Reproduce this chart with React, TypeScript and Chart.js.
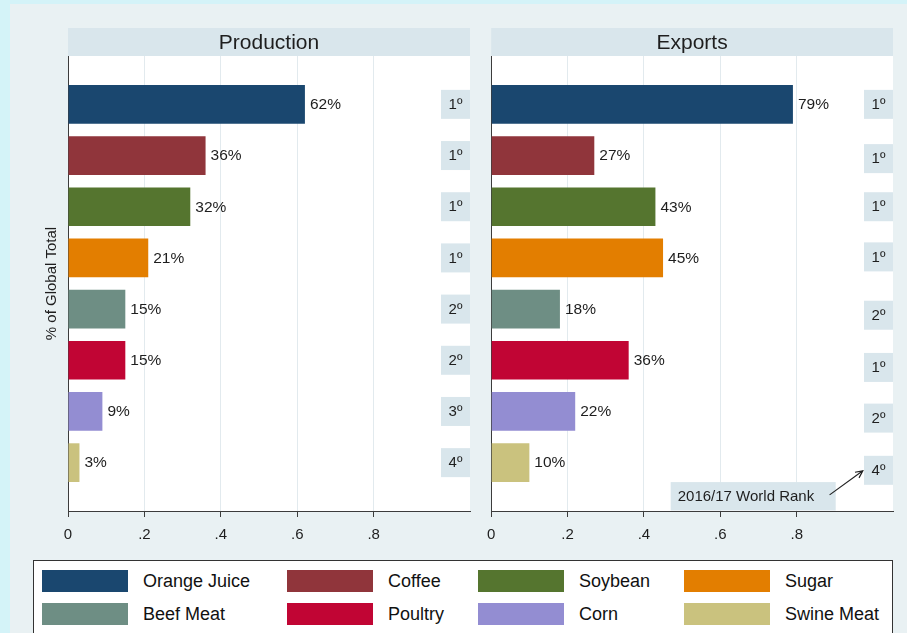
import React, { useEffect, useRef } from "react";
import { Chart, registerables } from "chart.js";

Chart.register(...registerables);

// ---------- data ----------
const categories = ["Orange Juice", "Coffee", "Soybean", "Sugar", "Beef Meat", "Poultry", "Corn", "Swine Meat"];
const productionShare = [0.62, 0.36, 0.32, 0.21, 0.15, 0.15, 0.09, 0.03];
const exportsShare = [0.79, 0.27, 0.43, 0.45, 0.18, 0.36, 0.22, 0.1];
const productionRank = ["1º", "1º", "1º", "1º", "2º", "2º", "3º", "4º"];
const exportsRank = ["1º", "1º", "1º", "1º", "2º", "1º", "2º", "4º"];
const productionRankY = [0, 1, 2, 3, 4, 5, 6, 7];
const exportsRankY = [0, 1.06, 2, 2.98, 4.12, 5.14, 6.13, 7.15];
const xTickValues = [0, 0.2, 0.4, 0.6, 0.8];
const xTickLabels = ["0", ".2", ".4", ".6", ".8"];
const barColors = ["#1a476f", "#90353b", "#55752f", "#e37e00", "#6e8e84", "#c10534", "#938dd2", "#cac27e"];
const panelTitles = ["Production", "Exports"];
const yAxisTitle = "% of Global Total";
const annotationText = "2016/17 World Rank";

// ---------- style ----------
const FONT = '"Liberation Sans", Arial, Helvetica, sans-serif';
const OUTER_BG = "#d4f3f8";
const PANEL_BG = "#e9f1f3";
const HEADER_BG = "#d9e6ec";
const GRID = "#e2eaee";
const AXIS = "#3c3c3c";
const TEXT = "#1e1e1e";
const X_MAX = 1.052;
const RANK_X = 1.014;

const decorPlugin = {
  id: "decor",
  beforeDraw(chart: any, _args: any, opts: any) {
    const { ctx, chartArea: a } = chart;
    ctx.save();
    ctx.fillStyle = "#ffffff";
    ctx.fillRect(a.left, a.top, a.right - a.left, a.bottom - a.top);
    ctx.fillStyle = HEADER_BG;
    ctx.fillRect(a.left, a.top - 28, a.right - a.left, 28);
    ctx.fillStyle = TEXT;
    ctx.font = `21px ${FONT}`;
    ctx.textAlign = "center";
    ctx.textBaseline = "middle";
    ctx.fillText(opts.title, (a.left + a.right) / 2, a.top - 13);
    ctx.restore();
  },
  afterDatasetsDraw(chart: any, _args: any, opts: any) {
    const { ctx, chartArea: a } = chart;
    const xs = chart.scales.x;
    const ys = chart.scales.y;
    const values: number[] = opts.values;
    ctx.save();
    // value labels
    ctx.fillStyle = TEXT;
    ctx.font = `15.5px ${FONT}`;
    ctx.textAlign = "left";
    ctx.textBaseline = "middle";
    values.forEach((v, i) => {
      ctx.fillText(Math.round(v * 100) + "%", xs.getPixelForValue(v) + 5, ys.getPixelForValue(i) + 0.5);
    });
    // rank boxes
    const ranks: string[] = opts.ranks;
    const rankY: number[] = opts.rankY;
    ranks.forEach((r, i) => {
      const cx = xs.getPixelForValue(RANK_X);
      const cy = ys.getPixelForValue(rankY[i]);
      ctx.fillStyle = HEADER_BG;
      ctx.fillRect(cx - 14.5, cy - 14.5, 29, 29);
      ctx.fillStyle = TEXT;
      ctx.font = `15px ${FONT}`;
      ctx.textAlign = "center";
      ctx.fillText(r, cx, cy + 0.5);
    });
    // annotation
    if (opts.annotate) {
      const x0 = xs.getPixelForValue(0.47);
      const x1 = xs.getPixelForValue(0.902);
      const y0 = ys.getPixelForValue(7.38);
      const y1 = a.bottom - 0.5;
      ctx.fillStyle = HEADER_BG;
      ctx.fillRect(x0, y0, x1 - x0, y1 - y0);
      ctx.fillStyle = TEXT;
      ctx.font = `15px ${FONT}`;
      ctx.textAlign = "left";
      ctx.fillText(annotationText, x0 + 7, (y0 + y1) / 2 + 0.5);
      const ax0 = xs.getPixelForValue(0.886);
      const ay0 = ys.getPixelForValue(7.63);
      const ax1 = xs.getPixelForValue(0.973);
      const ay1 = ys.getPixelForValue(7.16);
      ctx.strokeStyle = "#222";
      ctx.lineWidth = 1.2;
      ctx.beginPath();
      ctx.moveTo(ax0, ay0);
      ctx.lineTo(ax1, ay1);
      const ang = Math.atan2(ay1 - ay0, ax1 - ax0);
      const h = 8;
      ctx.moveTo(ax1 - h * Math.cos(ang - 0.45), ay1 - h * Math.sin(ang - 0.45));
      ctx.lineTo(ax1, ay1);
      ctx.lineTo(ax1 - h * Math.cos(ang + 0.45), ay1 - h * Math.sin(ang + 0.45));
      ctx.stroke();
    }
    ctx.restore();
  },
};

type PanelProps = {
  title: string;
  values: number[];
  ranks: string[];
  rankY: number[];
  left: number;
  width: number;
  yWidth: number;
  padRight: number;
  showYTitle: boolean;
  annotate: boolean;
};

function Panel(p: PanelProps) {
  const ref = useRef<HTMLCanvasElement | null>(null);
  useEffect(() => {
    if (!ref.current) return;
    const chart = new Chart(ref.current, {
      type: "bar",
      data: {
        labels: categories,
        datasets: [
          {
            data: p.values.map((v, i) => ({ x: v, y: i })) as any,
            backgroundColor: barColors,
            borderWidth: 0,
            categoryPercentage: 0.8,
            barPercentage: 1,
          },
        ],
      },
      options: {
        animation: false,
        responsive: false,
        maintainAspectRatio: false,
        indexAxis: "y",
        layout: { padding: { top: 56, right: p.padRight, left: 0, bottom: 0 } },
        plugins: {
          legend: { display: false },
          tooltip: { enabled: false },
          decor: { title: p.title, values: p.values, ranks: p.ranks, rankY: p.rankY, annotate: p.annotate },
        } as any,
        scales: {
          x: {
            type: "linear",
            position: "bottom",
            min: 0,
            max: X_MAX,
            afterBuildTicks: (s: any) => {
              s.ticks = xTickValues.map((v) => ({ value: v }));
            },
            afterFit: (s: any) => {
              s.height = 45;
            },
            ticks: {
              callback: (_v: any, i: number) => xTickLabels[i],
              font: { family: FONT, size: 15 },
              color: TEXT,
              padding: 9,
              maxRotation: 0,
              autoSkip: false,
            },
            grid: { color: GRID, tickColor: AXIS, tickLength: 6, drawTicks: true, lineWidth: 1 },
            border: { display: true, color: AXIS, width: 1 },
          },
          y: {
            type: "linear",
            offset: false,
            min: -0.945,
            max: 7.945,
            reverse: true,
            afterFit: (s: any) => {
              s.width = p.yWidth;
            },
            ticks: { display: false },
            grid: { display: false, offset: false },
            border: { display: true, color: AXIS, width: 1 },
            title: {
              display: p.showYTitle,
              text: yAxisTitle,
              color: TEXT,
              font: { family: FONT, size: 15 },
              padding: { top: 43, bottom: 0 },
            },
          },
        } as any,
      },
      plugins: [decorPlugin],
    });
    return () => chart.destroy();
  }, []);
  return (
    <canvas
      ref={ref}
      width={p.width}
      height={556}
      style={{ position: "absolute", left: p.left, top: 0, width: p.width, height: 556 }}
    />
  );
}

const legendCols = [42, 287, 478, 684];
const legendRows = [570, 603];

export default function App() {
  return (
    <div
      style={{
        position: "fixed",
        left: 0,
        top: 0,
        width: 907,
        height: 633,
        overflow: "hidden",
        background: OUTER_BG,
        fontFamily: FONT,
      }}
    >
      <div style={{ position: "absolute", left: 10, top: 4, width: 897, height: 629, background: PANEL_BG }} />
      <Panel
        title={panelTitles[0]}
        values={productionShare}
        ranks={productionRank}
        rankY={productionRankY}
        left={0}
        width={478}
        yWidth={68}
        padRight={8}
        showYTitle={true}
        annotate={false}
      />
      <Panel
        title={panelTitles[1]}
        values={exportsShare}
        ranks={exportsRank}
        rankY={exportsRankY}
        left={478}
        width={429}
        yWidth={13}
        padRight={14}
        showYTitle={false}
        annotate={true}
      />
      <div
        style={{
          position: "absolute",
          left: 33,
          top: 560,
          width: 860,
          height: 90,
          border: "1px solid #333",
          background: "#ffffff",
          boxSizing: "border-box",
        }}
      />
      {categories.map((c, i) => {
        const col = i % 4;
        const row = Math.floor(i / 4);
        const x = legendCols[col];
        const y = legendRows[row];
        return (
          <React.Fragment key={c}>
            <div
              style={{
                position: "absolute",
                left: x,
                top: y,
                width: 86,
                height: 22,
                background: barColors[i],
              }}
            />
            <div
              style={{
                position: "absolute",
                left: x + 101,
                top: y,
                height: 22,
                lineHeight: "22px",
                fontSize: 18,
                color: "#111",
                whiteSpace: "nowrap",
              }}
            >
              {c}
            </div>
          </React.Fragment>
        );
      })}
    </div>
  );
}
